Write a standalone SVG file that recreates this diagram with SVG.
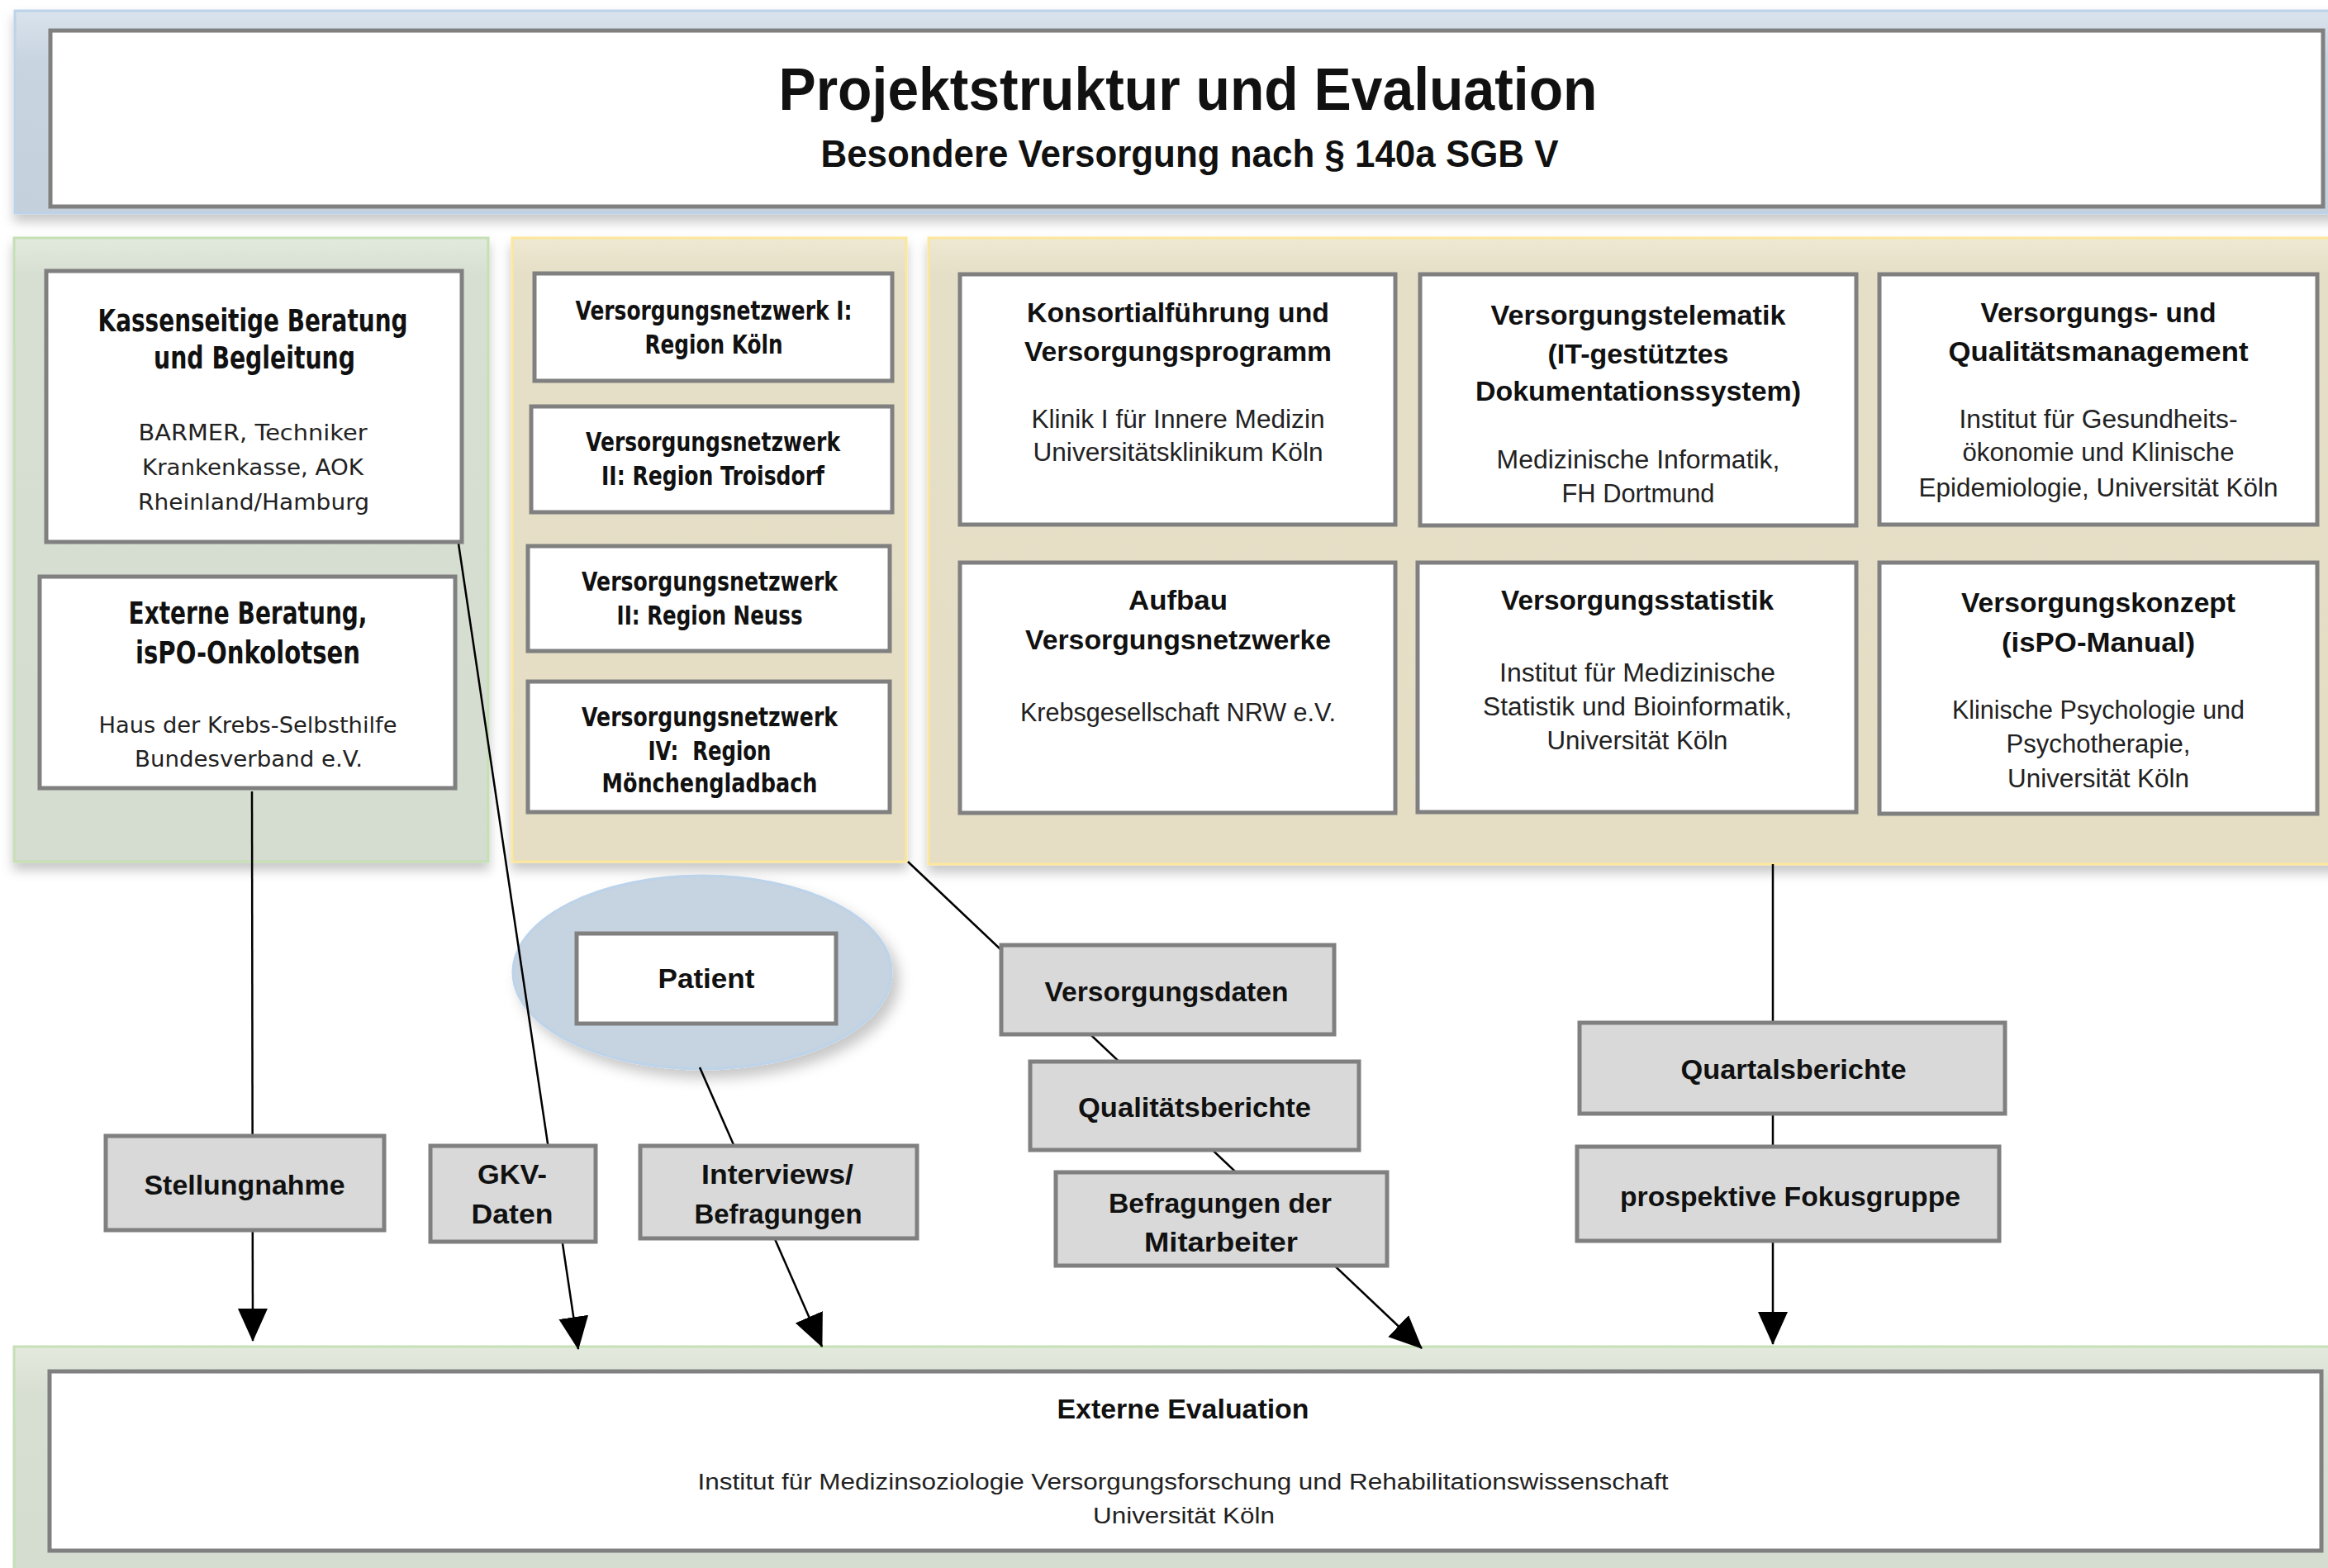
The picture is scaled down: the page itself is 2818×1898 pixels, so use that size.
<svg xmlns="http://www.w3.org/2000/svg" width="2818" height="1898" viewBox="0 0 2818 1898">
<style>
.box{fill:#fff;stroke:#808080;stroke-width:5}
.gbox{fill:#d9d9d9;stroke:#808080;stroke-width:5}
.hv{font-family:"DejaVu Sans",Verdana,sans-serif;font-weight:bold;font-size:28px;fill:#111;text-anchor:middle}
.hm{font-family:"DejaVu Sans",Verdana,sans-serif;font-weight:bold;font-size:25px;fill:#111;text-anchor:middle}
.bv{font-family:"DejaVu Sans",Verdana,sans-serif;font-size:26px;fill:#222;text-anchor:middle}
.hc{font-family:"Liberation Sans",Arial,sans-serif;font-weight:bold;font-size:34px;fill:#111;text-anchor:middle}
.bc{font-family:"Liberation Sans",Arial,sans-serif;font-size:31px;fill:#222;text-anchor:middle}
.be{font-family:"Liberation Sans",Arial,sans-serif;font-size:27px;fill:#222;text-anchor:middle}
.conn{stroke:#000;stroke-width:2.5;fill:none;marker-end:url(#arr)}
</style>
<defs>
<linearGradient id="gBlue" x1="0" y1="0" x2="0" y2="1"><stop offset="0" stop-color="#d9e3ed"/><stop offset="0.25" stop-color="#c8d4e0"/><stop offset="1" stop-color="#c4d0dc"/></linearGradient>
<linearGradient id="gGreen" x1="0" y1="0" x2="0" y2="1"><stop offset="0" stop-color="#e2e9dd"/><stop offset="0.06" stop-color="#d7ded2"/><stop offset="1" stop-color="#d5dcd0"/></linearGradient>
<linearGradient id="gGreen2" x1="0" y1="0" x2="0" y2="1"><stop offset="0" stop-color="#e3eadd"/><stop offset="0.2" stop-color="#d7ded2"/><stop offset="1" stop-color="#d5dcd0"/></linearGradient>
<linearGradient id="gYel" x1="0" y1="0" x2="0" y2="1"><stop offset="0" stop-color="#efe8d2"/><stop offset="0.06" stop-color="#e6dfc7"/><stop offset="1" stop-color="#e5dec5"/></linearGradient>
<filter id="sh" x="-5%" y="-5%" width="110%" height="125%"><feDropShadow dx="0" dy="9" stdDeviation="7" flood-color="#000" flood-opacity="0.22"/></filter>
<filter id="she" x="-20%" y="-20%" width="150%" height="150%"><feDropShadow dx="8" dy="10" stdDeviation="8" flood-color="#000" flood-opacity="0.22"/></filter>
<marker id="arr" viewBox="0 0 40 40" markerWidth="40" markerHeight="40" refX="39" refY="20" orient="auto" markerUnits="userSpaceOnUse"><path d="M0,2 L40,20 L0,38 z" fill="#000"/></marker>
</defs>
<rect width="2818" height="1898" fill="#fff"/>

<g id="panels">
<rect id="panel-top" x="18" y="13" width="2820" height="245" fill="url(#gBlue)" stroke="#bcd3ea" stroke-width="3" filter="url(#sh)"/>
<rect id="panel-left" x="17" y="288" width="574" height="755" fill="url(#gGreen)" stroke="#c5e0b4" stroke-width="3" filter="url(#sh)"/>
<rect id="panel-mid" x="620" y="288" width="477" height="755" fill="url(#gYel)" stroke="#fde79b" stroke-width="3" filter="url(#sh)"/>
<rect id="panel-right" x="1124" y="288" width="1720" height="758" fill="url(#gYel)" stroke="#fde79b" stroke-width="3" filter="url(#sh)"/>
<rect id="panel-bottom" x="17" y="1630" width="2830" height="290" fill="url(#gGreen2)" stroke="#c5e0b4" stroke-width="3"/>
</g>

<g id="title">
<rect class="box" x="61" y="37" width="2751" height="213"/>
<text class="hc" x="1438" y="133" font-size="72" textLength="991" lengthAdjust="spacingAndGlyphs" style="font-size:72px">Projektstruktur und Evaluation</text>
<text class="hc" x="1440" y="202" textLength="893" lengthAdjust="spacingAndGlyphs" style="font-size:46px">Besondere Versorgung nach § 140a SGB V</text>
</g>

<g id="patient-ellipse">
<ellipse cx="850" cy="1177" rx="229" ry="117" fill="#c6d3e0" stroke="#bcd3ea" stroke-width="3" filter="url(#she)"/>
</g>

<g id="connectors">
<line class="conn" x1="305" y1="958" x2="306" y2="1623"/>
<line class="conn" x1="555" y1="658" x2="700" y2="1633"/>
<line class="conn" x1="847" y1="1292" x2="995" y2="1630"/>
<line class="conn" x1="1099" y1="1043" x2="1721" y2="1632"/>
<line class="conn" x1="2146" y1="1046" x2="2146" y2="1627"/>
</g>

<g id="kassenseitige">
<rect class="box" x="56" y="328" width="503" height="328"/>
<text class="hv" transform="translate(306,401) scale(1,1.3)" textLength="375" lengthAdjust="spacingAndGlyphs">Kassenseitige Beratung</text>
<text class="hv" transform="translate(308,446) scale(1,1.3)" textLength="244" lengthAdjust="spacingAndGlyphs">und Begleitung</text>
<text class="bv" x="306" y="533" textLength="277" lengthAdjust="spacingAndGlyphs">BARMER, Techniker</text>
<text class="bv" x="306" y="575" textLength="268" lengthAdjust="spacingAndGlyphs">Krankenkasse, AOK</text>
<text class="bv" x="307" y="617" textLength="280" lengthAdjust="spacingAndGlyphs">Rheinland/Hamburg</text>
</g>

<g id="externe-beratung">
<rect class="box" x="48" y="698" width="503" height="256"/>
<text class="hv" transform="translate(300,755) scale(1,1.3)" textLength="289" lengthAdjust="spacingAndGlyphs">Externe Beratung,</text>
<text class="hv" transform="translate(300,803) scale(1,1.3)" textLength="272" lengthAdjust="spacingAndGlyphs">isPO-Onkolotsen</text>
<text class="bv" x="300" y="887" textLength="361" lengthAdjust="spacingAndGlyphs">Haus der Krebs-Selbsthilfe</text>
<text class="bv" x="301" y="928" textLength="276" lengthAdjust="spacingAndGlyphs">Bundesverband e.V.</text>
</g>

<g id="vn1">
<rect class="box" x="647" y="331" width="433" height="130"/>
<text class="hm" transform="translate(864,387) scale(1,1.28)" textLength="335" lengthAdjust="spacingAndGlyphs">Versorgungsnetzwerk I:</text>
<text class="hm" transform="translate(864,428) scale(1,1.28)" textLength="167" lengthAdjust="spacingAndGlyphs">Region Köln</text>
</g>
<g id="vn2">
<rect class="box" x="643" y="492" width="437" height="128"/>
<text class="hm" transform="translate(863,546) scale(1,1.28)" textLength="308" lengthAdjust="spacingAndGlyphs">Versorgungsnetzwerk</text>
<text class="hm" transform="translate(863,587) scale(1,1.28)" textLength="270" lengthAdjust="spacingAndGlyphs">II: Region Troisdorf</text>
</g>
<g id="vn3">
<rect class="box" x="639" y="661" width="438" height="127"/>
<text class="hm" transform="translate(859,715) scale(1,1.28)" textLength="310" lengthAdjust="spacingAndGlyphs">Versorgungsnetzwerk</text>
<text class="hm" transform="translate(859,756) scale(1,1.28)" textLength="225" lengthAdjust="spacingAndGlyphs">II: Region Neuss</text>
</g>
<g id="vn4">
<rect class="box" x="639" y="825" width="438" height="158"/>
<text class="hm" transform="translate(859,879) scale(1,1.28)" textLength="310" lengthAdjust="spacingAndGlyphs">Versorgungsnetzwerk</text>
<text class="hm" transform="translate(859,920) scale(1,1.28)" textLength="149" lengthAdjust="spacingAndGlyphs">IV:&#160; Region</text>
<text class="hm" transform="translate(859,959) scale(1,1.28)" textLength="261" lengthAdjust="spacingAndGlyphs">Mönchengladbach</text>
</g>

<g id="konsortial">
<rect class="box" x="1162" y="332" width="527" height="303"/>
<text class="hc" x="1426" y="390" textLength="366" lengthAdjust="spacingAndGlyphs">Konsortialführung und</text>
<text class="hc" x="1426" y="437" textLength="372" lengthAdjust="spacingAndGlyphs">Versorgungsprogramm</text>
<text class="bc" x="1426" y="518" textLength="355" lengthAdjust="spacingAndGlyphs">Klinik I für Innere Medizin</text>
<text class="bc" x="1426" y="558" textLength="351" lengthAdjust="spacingAndGlyphs">Universitätsklinikum Köln</text>
</g>
<g id="telematik">
<rect class="box" x="1719" y="332" width="528" height="304"/>
<text class="hc" x="1983" y="393" textLength="357" lengthAdjust="spacingAndGlyphs">Versorgungstelematik</text>
<text class="hc" x="1983" y="440" textLength="219" lengthAdjust="spacingAndGlyphs">(IT-gestütztes</text>
<text class="hc" x="1983" y="485" textLength="394" lengthAdjust="spacingAndGlyphs">Dokumentationssystem)</text>
<text class="bc" x="1983" y="567" textLength="343" lengthAdjust="spacingAndGlyphs">Medizinische Informatik,</text>
<text class="bc" x="1983" y="608" textLength="185" lengthAdjust="spacingAndGlyphs">FH Dortmund</text>
</g>
<g id="qualitaetsmanagement">
<rect class="box" x="2275" y="332" width="530" height="303"/>
<text class="hc" x="2540" y="390" textLength="285" lengthAdjust="spacingAndGlyphs">Versorgungs- und</text>
<text class="hc" x="2540" y="437" textLength="363" lengthAdjust="spacingAndGlyphs">Qualitätsmanagement</text>
<text class="bc" x="2540" y="518" textLength="337" lengthAdjust="spacingAndGlyphs">Institut für Gesundheits-</text>
<text class="bc" x="2540" y="558" textLength="329" lengthAdjust="spacingAndGlyphs">ökonomie und Klinische</text>
<text class="bc" x="2540" y="601" textLength="435" lengthAdjust="spacingAndGlyphs">Epidemiologie, Universität Köln</text>
</g>
<g id="aufbau">
<rect class="box" x="1162" y="681" width="527" height="303"/>
<text class="hc" x="1426" y="738" textLength="120" lengthAdjust="spacingAndGlyphs">Aufbau</text>
<text class="hc" x="1426" y="786" textLength="370" lengthAdjust="spacingAndGlyphs">Versorgungsnetzwerke</text>
<text class="bc" x="1426" y="873" textLength="382" lengthAdjust="spacingAndGlyphs">Krebsgesellschaft NRW e.V.</text>
</g>
<g id="statistik">
<rect class="box" x="1716" y="681" width="531" height="302"/>
<text class="hc" x="1982" y="738" textLength="330" lengthAdjust="spacingAndGlyphs">Versorgungsstatistik</text>
<text class="bc" x="1982" y="825" textLength="334" lengthAdjust="spacingAndGlyphs">Institut für Medizinische</text>
<text class="bc" x="1982" y="866" textLength="374" lengthAdjust="spacingAndGlyphs">Statistik und Bioinformatik,</text>
<text class="bc" x="1982" y="907" textLength="219" lengthAdjust="spacingAndGlyphs">Universität Köln</text>
</g>
<g id="konzept">
<rect class="box" x="2275" y="681" width="530" height="304"/>
<text class="hc" x="2540" y="741" textLength="332" lengthAdjust="spacingAndGlyphs">Versorgungskonzept</text>
<text class="hc" x="2540" y="789" textLength="234" lengthAdjust="spacingAndGlyphs">(isPO-Manual)</text>
<text class="bc" x="2540" y="870" textLength="354" lengthAdjust="spacingAndGlyphs">Klinische Psychologie und</text>
<text class="bc" x="2540" y="911" textLength="223" lengthAdjust="spacingAndGlyphs">Psychotherapie,</text>
<text class="bc" x="2540" y="953" textLength="220" lengthAdjust="spacingAndGlyphs">Universität Köln</text>
</g>

<g id="patient">
<rect class="box" x="698" y="1130" width="314" height="109"/>
<text class="hc" x="855" y="1196" textLength="117" lengthAdjust="spacingAndGlyphs">Patient</text>
</g>
<g id="stellungnahme">
<rect class="gbox" x="128" y="1375" width="337" height="114"/>
<text class="hc" x="296" y="1446" textLength="243" lengthAdjust="spacingAndGlyphs">Stellungnahme</text>
</g>
<g id="gkv">
<rect class="gbox" x="521" y="1387" width="200" height="116"/>
<text class="hc" x="620" y="1433" textLength="84" lengthAdjust="spacingAndGlyphs">GKV-</text>
<text class="hc" x="620" y="1481" textLength="99" lengthAdjust="spacingAndGlyphs">Daten</text>
</g>
<g id="interviews">
<rect class="gbox" x="775" y="1387" width="335" height="112"/>
<text class="hc" x="941" y="1433" textLength="184" lengthAdjust="spacingAndGlyphs">Interviews/</text>
<text class="hc" x="942" y="1481" textLength="203" lengthAdjust="spacingAndGlyphs">Befragungen</text>
</g>
<g id="versorgungsdaten">
<rect class="gbox" x="1212" y="1144" width="403" height="108"/>
<text class="hc" x="1412" y="1212" textLength="295" lengthAdjust="spacingAndGlyphs">Versorgungsdaten</text>
</g>
<g id="qualitaetsberichte">
<rect class="gbox" x="1247" y="1285" width="398" height="107"/>
<text class="hc" x="1446" y="1352" textLength="282" lengthAdjust="spacingAndGlyphs">Qualitätsberichte</text>
</g>
<g id="befragungen">
<rect class="gbox" x="1278" y="1419" width="401" height="113"/>
<text class="hc" x="1477" y="1468" textLength="270" lengthAdjust="spacingAndGlyphs">Befragungen der</text>
<text class="hc" x="1478" y="1515" textLength="186" lengthAdjust="spacingAndGlyphs">Mitarbeiter</text>
</g>
<g id="quartalsberichte">
<rect class="gbox" x="1912" y="1238" width="515" height="110"/>
<text class="hc" x="2171" y="1306" textLength="273" lengthAdjust="spacingAndGlyphs">Quartalsberichte</text>
</g>
<g id="fokusgruppe">
<rect class="gbox" x="1909" y="1388" width="511" height="114"/>
<text class="hc" x="2167" y="1460" textLength="412" lengthAdjust="spacingAndGlyphs">prospektive Fokusgruppe</text>
</g>

<g id="externe-evaluation">
<rect class="box" x="60" y="1660" width="2750" height="217"/>
<text class="hc" x="1432" y="1717" textLength="305" lengthAdjust="spacingAndGlyphs">Externe Evaluation</text>
<text class="be" x="1432" y="1803" textLength="1175" lengthAdjust="spacingAndGlyphs">Institut für Medizinsoziologie Versorgungsforschung und Rehabilitationswissenschaft</text>
<text class="be" x="1433" y="1844" textLength="220" lengthAdjust="spacingAndGlyphs">Universität Köln</text>
</g>
</svg>
